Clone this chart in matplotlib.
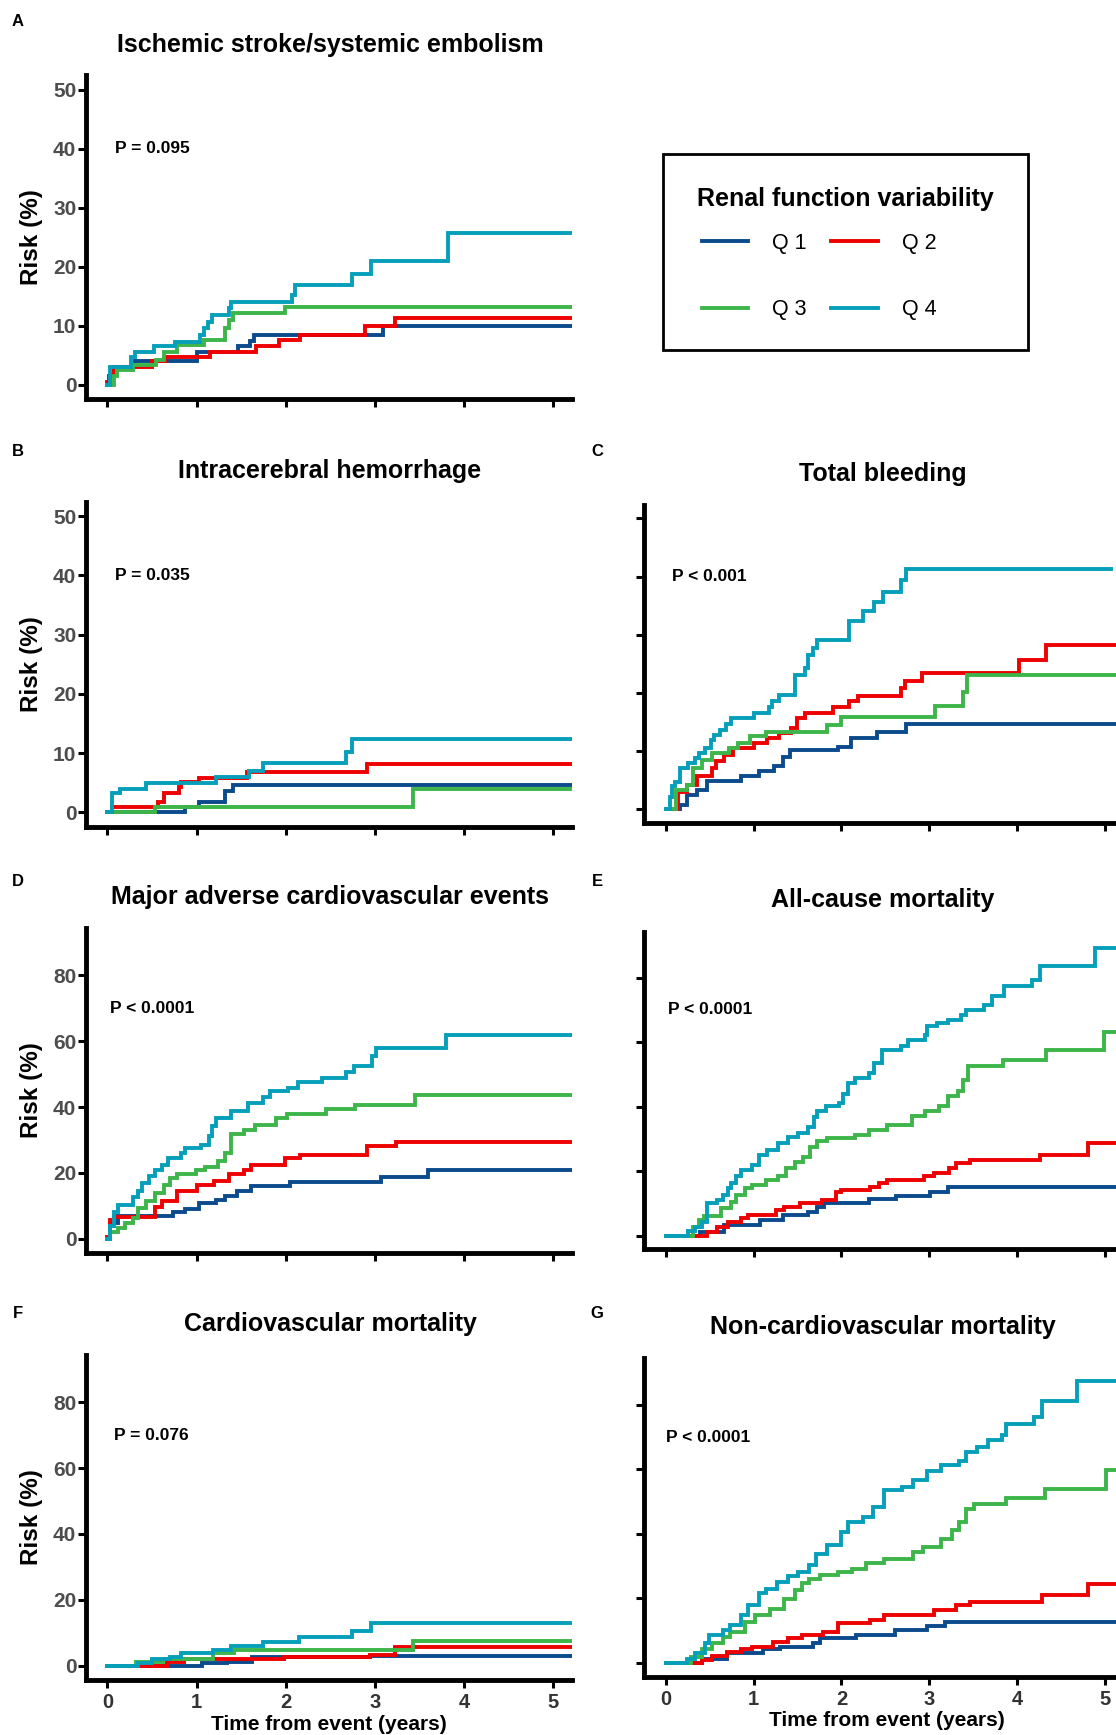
"""
# Cumulative risk curves by quartile of renal function variability (panels A-G)
"""

### Packages
import matplotlib.pyplot as plt
from matplotlib.patches import Rectangle

plt.rcParams['font.family'] = ['Liberation Sans', 'DejaVu Sans']

### Data
quartile_labels = ['Q 1', 'Q 2', 'Q 3', 'Q 4']
quartile_colors = ['#0b4a8c', '#ee0000', '#3db54a', '#069fba']

# A - Ischemic stroke/systemic embolism
ischemic_times = [
    [0, 0.017, 0.069, 0.306, 1.0, 1.47, 1.6, 1.64, 3.09],
    [0, 0.026, 0.069, 0.5, 0.65, 1.15, 1.67, 1.92, 2.16, 2.89, 3.22],
    [0, 0.069, 0.112, 0.285, 0.54, 0.63, 0.78, 1.08, 1.32, 1.36, 1.41, 1.99],
    [0, 0.026, 0.263, 0.306, 0.52, 0.76, 1.04, 1.08, 1.13, 1.17, 1.36, 1.39, 2.07, 2.1, 2.74, 2.96, 3.82],
]
ischemic_risk = [
    [0, 1.5, 3.1, 4.0, 5.6, 6.5, 7.5, 8.5, 9.9],
    [0.5, 1.7, 3.1, 4.0, 4.8, 5.6, 6.5, 7.6, 8.5, 9.9, 11.3],
    [0, 1.5, 2.5, 3.3, 4.2, 5.6, 6.8, 7.6, 9.6, 11.0, 12.1, 13.2],
    [0, 3.1, 4.7, 5.6, 6.5, 7.3, 8.5, 9.6, 10.7, 11.9, 13.0, 14.0, 15.3, 17.0, 18.8, 21.0, 25.7],
]

# B - Intracerebral hemorrhage
ich_times = [
    [0, 0.866, 1.03, 1.32, 1.41],
    [0, 0.054, 0.57, 0.64, 0.80, 0.82, 1.03, 1.57, 2.91],
    [0, 0.53, 3.43],
    [0, 0.054, 0.137, 0.43, 1.22, 1.59, 1.74, 2.68, 2.74],
]
ich_risk = [
    [0, 0.9, 1.8, 3.5, 4.6],
    [0, 0.8, 1.8, 3.3, 4.3, 5.1, 5.8, 6.8, 8.2],
    [0, 0.95, 4.0],
    [0, 3.2, 4.0, 4.9, 6.0, 7.0, 8.3, 10.2, 12.4],
]

# C - Total bleeding
bleeding_times = [
    [0, 0.157, 0.235, 0.352, 0.47, 0.86, 1.06, 1.23, 1.33, 1.41, 1.96, 2.11, 2.41, 2.74],
    [0, 0.137, 0.235, 0.352, 0.53, 0.568, 0.666, 0.763, 1.0, 1.155, 1.29, 1.43, 1.49, 1.59,
     1.9, 2.09, 2.19, 2.68, 2.72, 2.92, 4.03, 4.33],
    [0, 0.117, 0.235, 0.313, 0.41, 0.53, 0.724, 0.82, 0.96, 1.135, 1.84, 2.0, 3.07, 3.39, 3.43],
    [0, 0.047, 0.07, 0.098, 0.157, 0.255, 0.333, 0.372, 0.45, 0.51, 0.55, 0.62, 0.685, 0.744,
     1.0, 1.17, 1.21, 1.29, 1.47, 1.59, 1.62, 1.68, 1.72, 2.09, 2.25, 2.37, 2.47, 2.68, 2.74],
]
bleeding_risk = [
    [0, 0.7, 2.4, 3.3, 4.8, 5.7, 6.6, 7.4, 9.0, 10.1, 10.7, 12.2, 13.3, 14.7],
    [0, 3.0, 4.1, 5.6, 7.0, 8.2, 9.3, 10.5, 11.3, 12.2, 13.0, 13.9, 15.6, 16.6,
     17.6, 18.5, 19.5, 20.8, 22.1, 23.4, 25.6, 28.2],
    [0, 3.3, 4.1, 7.0, 8.4, 9.7, 10.5, 11.4, 12.5, 13.3, 14.5, 15.9, 17.8, 20.1, 23.1],
    [0, 2.1, 3.9, 4.7, 7.0, 7.9, 8.7, 9.6, 10.5, 11.9, 12.8, 13.6, 14.7, 15.6,
     16.5, 17.6, 18.6, 19.7, 23.1, 24.3, 26.5, 27.7, 29.1, 32.3, 34.0, 35.6, 37.3, 39.4, 41.3],
]

# D - Major adverse cardiovascular events
mace_times = [
    [0, 0.033, 0.117, 0.741, 0.866, 1.03, 1.22, 1.324, 1.449, 1.615, 2.05, 3.07, 3.59],
    [0, 0.033, 0.075, 0.533, 0.616, 0.783, 1.01, 1.2, 1.366, 1.53, 1.615, 1.99, 2.157, 2.906, 3.239],
    [0, 0.033, 0.117, 0.2, 0.283, 0.346, 0.429, 0.533, 0.637, 0.7, 0.783, 0.99, 1.095, 1.24,
     1.32, 1.386, 1.53, 1.657, 1.886, 2.01, 2.448, 2.78, 3.447],
    [0, 0.033, 0.075, 0.117, 0.283, 0.346, 0.387, 0.47, 0.533, 0.616, 0.679, 0.824, 0.866, 1.053,
     1.136, 1.178, 1.22, 1.386, 1.574, 1.74, 1.823, 2.03, 2.136, 2.406, 2.677, 2.76, 2.968, 3.01, 3.80],
]
mace_risk = [
    [0, 4.8, 7.0, 8.0, 9.0, 10.9, 11.9, 13.1, 14.4, 16.1, 17.2, 18.8, 20.8],
    [0.7, 5.8, 6.6, 9.8, 11.4, 14.4, 16.4, 17.5, 19.8, 21.0, 22.5, 24.6, 25.6, 28.1, 29.3],
    [0, 2.2, 3.2, 4.8, 6.3, 9.3, 11.4, 13.9, 16.4, 18.5, 19.8, 20.8, 21.8, 23.6,
     26.1, 31.7, 33.0, 34.7, 36.8, 37.8, 39.3, 40.5, 43.6],
    [0, 3.8, 8.3, 10.4, 12.7, 14.6, 17.0, 19.2, 21.0, 22.5, 24.4, 26.1, 27.6, 28.6,
     31.2, 34.2, 36.8, 38.8, 41.3, 43.1, 44.9, 45.9, 47.6, 48.9, 50.7, 52.5, 55.5, 58.1, 61.8],
]

# E - All-cause mortality
allcause_times = [
    [0, 0.392, 0.666, 1.077, 1.331, 1.625, 1.723, 1.8, 2.31, 2.623, 3.015, 3.21],
    [0, 0.47, 0.587, 0.705, 0.861, 0.94, 1.253, 1.35, 1.527, 1.78, 1.938, 1.997, 2.33, 2.43,
     2.525, 2.937, 3.054, 3.23, 3.308, 3.465, 4.268, 4.816],
    [0, 0.313, 0.372, 0.431, 0.626, 0.744, 0.803, 0.9, 0.979, 1.135, 1.273, 1.37, 1.468, 1.566,
     1.645, 1.723, 1.84, 2.153, 2.31, 2.525, 2.8, 2.956, 3.113, 3.21, 3.328, 3.387, 3.446,
     3.837, 4.327, 4.992],
    [0, 0.254, 0.333, 0.411, 0.47, 0.587, 0.646, 0.705, 0.744, 0.803, 0.861, 0.979, 1.057, 1.155,
     1.273, 1.39, 1.507, 1.625, 1.684, 1.723, 1.82, 1.977, 2.016, 2.075, 2.153, 2.31, 2.369,
     2.467, 2.682, 2.76, 2.956, 2.976, 3.093, 3.21, 3.367, 3.426, 3.622, 3.72, 3.857, 4.17,
     4.268, 4.894],
]
allcause_risk = [
    [0, 1.3, 3.4, 5.0, 6.5, 7.5, 9.1, 10.3, 11.4, 12.4, 13.7, 15.3],
    [0, 1.3, 2.9, 4.4, 5.5, 6.5, 8.1, 9.1, 10.3, 11.2, 13.7, 14.3, 15.3, 16.3,
     17.2, 18.6, 19.6, 21.0, 22.5, 23.4, 25.1, 28.7],
    [0, 2.9, 5.0, 6.2, 8.6, 10.6, 12.7, 14.8, 15.8, 17.4, 18.6, 21.0, 23.0, 24.6,
     27.7, 29.3, 30.3, 31.3, 32.9, 34.4, 37.2, 38.6, 40.1, 43.2, 44.8, 48.4, 52.5,
     54.6, 57.5, 63.0],
    [0, 1.7, 2.9, 4.4, 10.1, 11.1, 12.7, 14.8, 16.5, 18.6, 20.5, 22.0, 25.1, 26.7,
     28.7, 30.8, 31.8, 33.9, 37.0, 38.6, 40.1, 41.1, 44.1, 47.3, 48.9, 50.4, 53.5,
     57.5, 58.7, 60.6, 62.3, 64.9, 65.9, 66.8, 68.5, 70.1, 71.6, 74.2, 77.5, 79.4,
     83.5, 89.2],
]

# F - Cardiovascular mortality
cvdeath_times = [
    [0, 1.064, 1.344, 1.624, 2.944],
    [0, 0.664, 0.864, 1.984, 2.944, 3.224],
    [0, 0.32, 0.624, 1.184, 1.424, 3.424],
    [0, 0.344, 0.504, 0.704, 0.824, 1.184, 1.384, 1.744, 2.144, 2.744, 2.96],
]
cvdeath_risk = [
    [0, 0.7, 1.2, 2.7, 2.9],
    [0, 1.2, 1.9, 2.7, 3.2, 5.6],
    [0, 1.2, 1.9, 3.8, 4.6, 7.6],
    [0, 0.9, 1.9, 2.7, 3.8, 4.8, 5.8, 7.1, 8.6, 10.4, 12.9],
]

# G - Non-cardiovascular mortality
noncv_times = [
    [0, 0.408, 0.693, 1.101, 1.305, 1.672, 1.754, 2.162, 2.61, 2.977, 3.181],
    [0, 0.408, 0.53, 0.693, 0.856, 0.979, 1.223, 1.387, 1.55, 1.794, 1.958, 2.325, 2.488,
     3.059, 3.303, 3.467, 4.282, 4.812],
    [0, 0.285, 0.408, 0.53, 0.653, 0.734, 0.897, 1.02, 1.183, 1.346, 1.468, 1.55, 1.631,
     1.754, 1.958, 2.121, 2.284, 2.488, 2.814, 2.936, 3.14, 3.263, 3.344, 3.426, 3.507,
     3.874, 4.323, 5.016],
    [0, 0.245, 0.326, 0.449, 0.489, 0.653, 0.734, 0.856, 0.938, 1.06, 1.142, 1.264, 1.387,
     1.509, 1.631, 1.713, 1.835, 1.998, 2.08, 2.243, 2.365, 2.488, 2.692, 2.814, 2.977,
     3.14, 3.344, 3.426, 3.548, 3.67, 3.834, 3.874, 4.2, 4.282, 4.69],
]
noncv_risk = [
    [0, 1.3, 3.1, 4.4, 5.0, 6.2, 7.8, 8.6, 10.1, 11.4, 12.7],
    [0, 1.0, 2.1, 3.4, 4.4, 5.0, 6.5, 7.8, 8.6, 9.6, 12.2, 13.2, 14.8, 16.3, 17.9, 18.9,
     20.9, 24.4],
    [0, 1.9, 4.4, 6.0, 8.0, 9.6, 12.7, 14.8, 16.8, 19.9, 22.5, 24.6, 26.1, 27.1, 28.2,
     29.2, 30.8, 32.3, 34.4, 35.9, 38.5, 41.1, 43.7, 47.8, 49.1, 51.1, 54.0, 59.9],
    [0, 1.3, 2.9, 6.0, 8.6, 10.1, 11.7, 14.8, 17.9, 21.5, 23.0, 25.1, 26.8, 28.2, 30.2,
     33.8, 36.4, 40.6, 43.7, 45.2, 48.3, 53.5, 54.5, 56.6, 59.6, 61.2, 62.7, 65.3, 66.9,
     69.0, 70.5, 74.1, 76.2, 81.3, 87.5],
]

# Follow-up end of each curve (years)
ischemic_end = [5.25, 5.25, 5.25, 5.25]
ich_end = [5.25, 5.25, 5.25, 5.25]
bleeding_end = [5.3, 5.3, 5.3, 5.07]
mace_end = [5.25, 5.25, 5.25, 5.25]
allcause_end = [5.3, 5.3, 5.3, 5.3]
cvdeath_end = [5.25, 5.25, 5.25, 5.25]
noncv_end = [5.3, 5.3, 5.3, 5.3]

p_values = ['P = 0.095', 'P = 0.035', 'P < 0.001', 'P < 0.0001', 'P < 0.0001', 'P = 0.076', 'P < 0.0001']
titles = ['Ischemic stroke/systemic embolism', 'Intracerebral hemorrhage', 'Total bleeding',
          'Major adverse cardiovascular events', 'All-cause mortality',
          'Cardiovascular mortality', 'Non-cardiovascular mortality']
letters = ['A', 'B', 'C', 'D', 'E', 'F', 'G']

### Figure
W, H = 1116, 1735
fig = plt.figure(figsize=(W / 100, H / 100), dpi=100)


def px_axes(left, top, right, bottom):
    return fig.add_axes([left / W, 1 - bottom / H, (right - left) / W, (bottom - top) / H])


def fig_text(x, y, s, **kw):
    fig.text(x / W, 1 - y / H, s, **kw)


# curves, box in pixels, ylim, yticks, P position, title centre, letter pos, left column, bottom row
panels = [
    (ischemic_times, ischemic_risk, ischemic_end, (86, 75, 572, 399), (-2.4, 52.5), range(0, 51, 10), (0.085, 40), (330, 45), (18, 22), True, False),
    (ich_times, ich_risk, ich_end, (86, 502, 572, 827), (-2.5, 52.4), range(0, 51, 10), (0.085, 40), (330, 471), (18, 452), True, False),
    (bleeding_times, bleeding_risk, bleeding_end, (644, 505, 1130, 823), (-2.4, 52.3), range(0, 51, 10), (0.07, 40), (883, 474), (597, 452), False, False),
    (mace_times, mace_risk, mace_end, (86, 928, 572, 1253), (-4.3, 94.4), range(0, 81, 20), (0.03, 70), (330, 897), (18, 881), True, False),
    (allcause_times, allcause_risk, allcause_end, (644, 932, 1130, 1249), (-4.0, 94.1), range(0, 81, 20), (0.02, 70), (883, 900), (597, 881), False, False),
    (cvdeath_times, cvdeath_risk, cvdeath_end, (86, 1355, 572, 1680), (-4.4, 94.4), range(0, 81, 20), (0.07, 70), (330, 1324), (18, 1313), True, True),
    (noncv_times, noncv_risk, noncv_end, (644, 1358, 1130, 1677), (-4.4, 94.5), range(0, 81, 20), (0.0, 70), (883, 1327), (597, 1313), False, True),
]

legend_lines = None
for i, (times, risks, ends, box, ylim, yticks, p_pos, title_pos, letter_pos, left_col, bottom_row) in enumerate(panels):
    ax = px_axes(*box)
    lines = []
    for q in range(4):
        t = times[q] + [ends[q]]
        r = risks[q] + [risks[q][-1]]
        ln, = ax.step(t, r, where='post', color=quartile_colors[q], lw=2.8,
                      solid_joinstyle='miter', label=quartile_labels[q])
        lines.append(ln)
    if legend_lines is None:
        legend_lines = lines
    if left_col:
        ax.set_xlim(-0.24, 5.21)
    else:
        ax.set_xlim(-0.25, 5.29)
    ax.set_ylim(*ylim)
    ax.set_xticks(range(0, 6))
    ax.set_yticks(list(yticks))
    for side in ['top', 'right']:
        ax.spines[side].set_visible(False)
    for side in ['left', 'bottom']:
        ax.spines[side].set_linewidth(3.5)
        ax.spines[side].set_capstyle('projecting')
    ax.tick_params(axis='both', length=5.5, width=2.2, color='black')
    ax.tick_params(axis='y', pad=1.5, labelsize=15, labelcolor='#4d4d4d')
    ax.tick_params(axis='x', pad=4, labelsize=14.5, labelcolor='#333333')
    for lab in ax.get_xticklabels() + ax.get_yticklabels():
        lab.set_fontweight('bold')
    if not left_col:
        ax.set_yticklabels([])
    if not bottom_row:
        ax.set_xticklabels([])
    else:
        ax.set_xlabel('Time from event (years)', fontsize=15, fontweight='bold')
        ax.xaxis.set_label_coords(0.5, -0.108)
    if left_col:
        ax.set_ylabel('Risk (%)', fontsize=17.5, fontweight='bold')
        ax.yaxis.set_label_coords(-0.089, 0.5)
    ax.text(p_pos[0], p_pos[1], p_values[i], fontsize=12.5, fontweight='bold',
            ha='left', va='center')
    fig_text(*title_pos, titles[i], fontsize=18, fontweight='bold', ha='center', va='center')
    fig_text(*letter_pos, letters[i], fontsize=12, fontweight='bold', ha='center', va='center')

### Legend (frame and title drawn separately, entries from plotted lines)
fig.patches.append(Rectangle((662.7 / W, 1 - 350 / H), (1028.3 - 662.7) / W, (350 - 154) / H,
                             transform=fig.transFigure, fill=False, edgecolor='black', lw=2))
fig_text(845, 199, 'Renal function variability', fontsize=18, fontweight='bold', ha='center', va='center')
order = [0, 2, 1, 3]
fig.legend([legend_lines[k] for k in order], [quartile_labels[k] for k in order],
           loc='upper left', bbox_to_anchor=(702 / W, 1 - 233 / H), ncol=2, frameon=False,
           fontsize=15.5, handlelength=2.15, handletextpad=1.12, columnspacing=1.13,
           labelspacing=2.1, borderpad=0, borderaxespad=0)

plt.savefig('out.png', dpi=100)
plt.close()
